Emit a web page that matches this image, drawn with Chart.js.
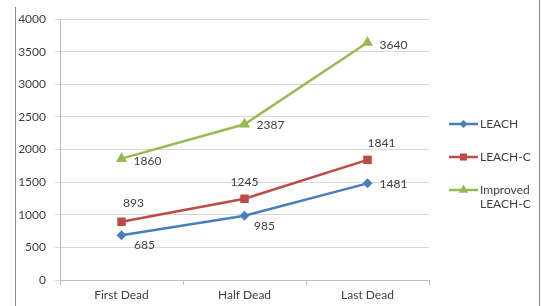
<!DOCTYPE html>
<html><head><meta charset="utf-8">
<script src="https://cdn.jsdelivr.net/npm/chart.js@4/dist/chart.umd.min.js"></script>
<style>html,body{margin:0;padding:0;background:#fff}#wrap{width:541px;height:306px;position:relative}</style>
</head><body><div id="wrap"><canvas id="c" width="541" height="306"></canvas></div>
<script>
const categories = ["First Dead", "Half Dead", "Last Dead"];
const leach = [685, 985, 1481];
const leachC = [893, 1245, 1841];
const improved = [1860, 2387, 3640];
const seriesNames = ["LEACH", "LEACH-C", ["Improved", "LEACH-C"]];
const yTicks = [0, 500, 1000, 1500, 2000, 2500, 3000, 3500, 4000];

const colors = ["#4A7EBB", "#BE4B48", "#98B954"];
const styles = ["rectRot", "rect", "triangle"];
const radii = [5, 6, 6.5];
// label offsets (dx, dy) relative to the point, per dataset
const labelOffsets = [
  [[23, 10], [20, 10], [26, 1]],
  [[12, -19], [0, -17], [14, -17]],
  [[26, 2], [26, 1], [26, 3]]
];
const FONT = "Lato, 'Open Sans', sans-serif";

const dsSource = [leach, leachC, improved];
const datasets = dsSource.map((d, i) => ({
  label: Array.isArray(seriesNames[i]) ? seriesNames[i].join(" ") : seriesNames[i],
  data: d,
  borderColor: colors[i],
  backgroundColor: colors[i],
  borderWidth: 2.5,
  pointStyle: styles[i],
  pointRadius: radii[i],
  pointHoverRadius: radii[i],
  pointBorderWidth: 0,
  tension: 0
}));

const decor = {
  id: "decor",
  afterDatasetsDraw(chart) {
    const ctx = chart.ctx;
    ctx.save();
    ctx.font = "12px " + FONT;
    ctx.fillStyle = "#404040";
    ctx.textAlign = "center";
    ctx.textBaseline = "middle";
    chart.data.datasets.forEach((ds, i) => {
      const meta = chart.getDatasetMeta(i);
      meta.data.forEach((pt, j) => {
        const o = labelOffsets[i][j];
        ctx.fillText(String(ds.data[j]), pt.x + o[0], pt.y + o[1]);
      });
    });
    // legend
    const lx = 449, lw = 29;
    const rows = [124, 157, 190];
    rows.forEach((y, i) => {
      ctx.strokeStyle = colors[i];
      ctx.lineWidth = 2.5;
      ctx.beginPath(); ctx.moveTo(lx, y); ctx.lineTo(lx + lw, y); ctx.stroke();
      ctx.fillStyle = colors[i];
      Chart.helpers.drawPoint(ctx, {pointStyle: styles[i], radius: radii[i] - 1, borderWidth: 0}, lx + lw / 2, y);
      ctx.fillStyle = "#404040";
      ctx.textAlign = "left";
      const names = Array.isArray(seriesNames[i]) ? seriesNames[i] : [seriesNames[i]];
      names.forEach((n, k) => ctx.fillText(n, lx + lw + 2, y + k * 14));
    });
    // frame lines
    ctx.strokeStyle = "#8c8c8c";
    ctx.lineWidth = 1;
    ctx.beginPath(); ctx.moveTo(15.5, 7); ctx.lineTo(15.5, 306); ctx.stroke();
    ctx.beginPath(); ctx.moveTo(539.5, 0); ctx.lineTo(539.5, 306); ctx.stroke();
    ctx.restore();
  }
};

new Chart(document.getElementById("c"), {
  type: "line",
  data: { labels: categories, datasets },
  options: {
    responsive: false,
    animation: false,
    devicePixelRatio: 1,
    layout: { padding: { top: 19, right: 112, left: 0, bottom: 0 } },
    plugins: { legend: { display: false }, tooltip: { enabled: false } },
    scales: {
      x: {
        offset: true,
        afterFit(s) { s.height = 26; },
        grid: { display: true, drawOnChartArea: false, offset: true, tickLength: 5, color: "#bfbfbf" },
        border: { color: "#bfbfbf" },
        ticks: { font: { size: 12, family: FONT }, color: "#404040", padding: 3 }
      },
      y: {
        min: 0, max: 4000,
        afterFit(s) { s.width = 60; },
        afterBuildTicks(s) { s.ticks = yTicks.map(v => ({ value: v })); },
        grid: { color: "#d9d9d9", tickLength: 5 },
        border: { color: "#bfbfbf" },
        ticks: { font: { size: 12, family: FONT }, color: "#404040", padding: 9, callback: v => String(v) }
      }
    }
  },
  plugins: [decor]
});
</script></body></html>
